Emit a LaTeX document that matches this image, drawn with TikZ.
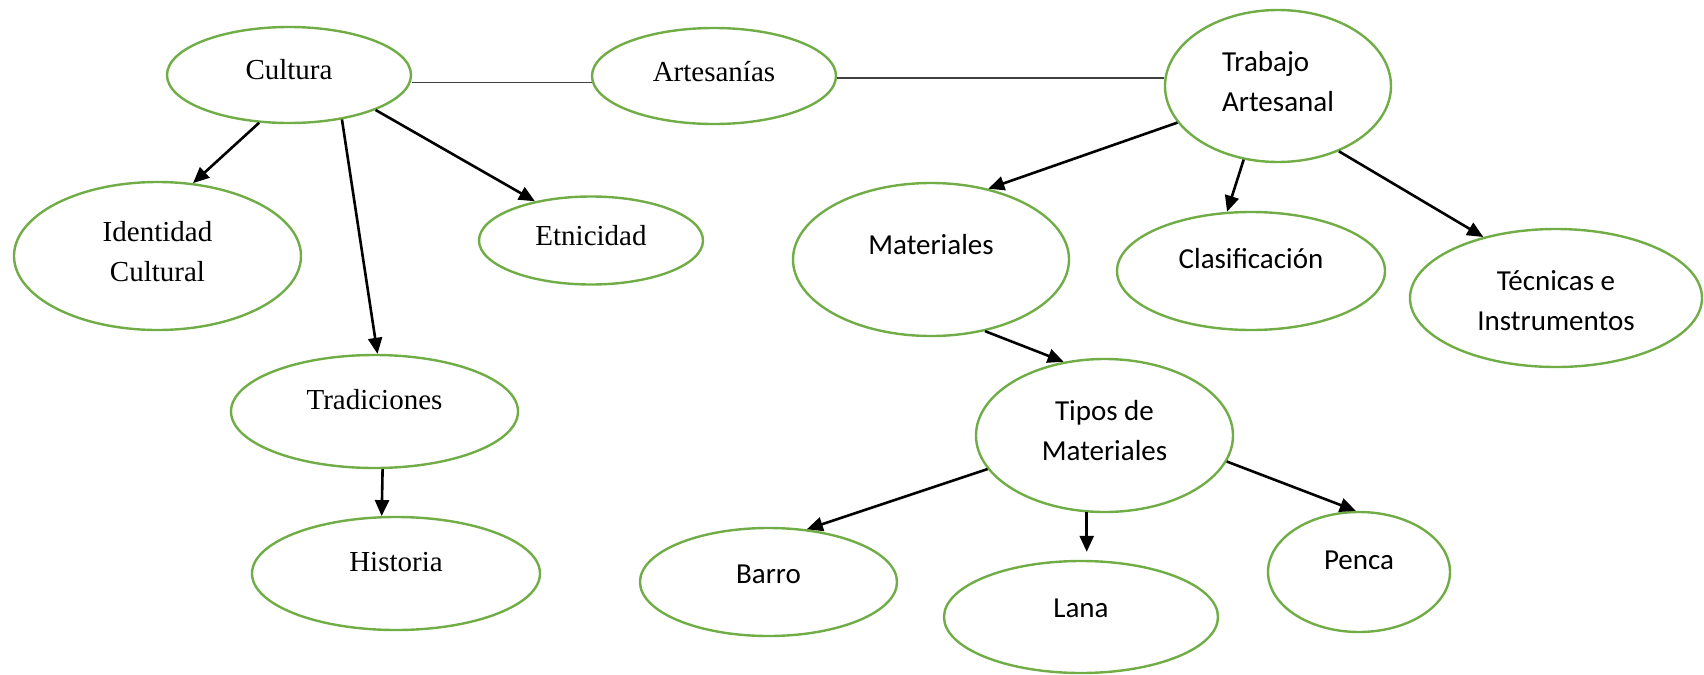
\documentclass[tikz,border=0pt]{standalone}
\usepackage{fontspec}
\setmainfont{Liberation Serif}
\newfontfamily\calibri{Carlito}
\usetikzlibrary{arrows.meta,shapes.geometric}
\definecolor{ovalgreen}{HTML}{70AD47}
\definecolor{linkgray}{HTML}{404040}
\newcommand{\lbl}[3][c]{\raisebox{#2}[\height][\depth]{\begin{tabular}{@{}#1@{}}#3\end{tabular}}}

\begin{document}
\begin{tikzpicture}[x=0.5pt,y=-0.5pt,
    oval/.style 2 args={minimum width=#1pt,minimum height=#2pt},
    sans/.style={font=\calibri\fontsize{14.5}{20}\selectfont}]
\useasboundingbox (0,0) rectangle (1704,675);
\begin{scope}[every node/.style={ellipse,draw=ovalgreen,line width=1.2pt,inner sep=0pt,
              font=\fontsize{14.5}{20}\selectfont}]
    \node[oval={122}{48}] (cul) at (289,75) {\lbl{2pt}{Cultura}};
    \node[oval={122}{48}] (art) at (714,76) {\lbl{1.5pt}{Artesanías}};
    \node[oval={143.5}{74}] (iden) at (157.5,256) {\lbl{1.5pt}{Identidad\\Cultural}};
    \node[oval={112}{44}] (etn) at (591,240.5) {\lbl{1.5pt}{Etnicidad}};
    \node[oval={143.5}{56.5}] (trad) at (374.5,411.5) {\lbl{5pt}{Tradiciones}};
    \node[oval={144}{56.5}] (hist) at (396,573.5) {\lbl{5pt}{Historia}};

    \node[oval={113}{76},sans] (trab) at (1278,86) {\lbl[l]{1.5pt}{Trabajo\\Artesanal}};
    \node[oval={138}{76.5},sans] (mat) at (931,259.5) {\lbl{6.5pt}{Materiales}};
    \node[oval={134}{59},sans] (clas) at (1251,271) {\lbl{5.5pt}{Clasificación}};
    \node[oval={146}{69},sans] (tec) at (1556,298) {\lbl{-2pt}{Técnicas e\\Instrumentos}};
    \node[oval={128.5}{76.5},sans] (tipos) at (1104.5,435.5) {\lbl{1.5pt}{Tipos de\\Materiales}};
    \node[oval={128.5}{54},sans] (barro) at (768.5,582) {\lbl{3.5pt}{Barro}};
    \node[oval={137}{56},sans] (lana) at (1081,617) {\lbl{4pt}{Lana}};
    \node[oval={91}{60},sans] (penca) at (1359,572) {\lbl{5.5pt}{Penca}};
\end{scope}

\begin{scope}[every edge/.style={draw=linkgray,line width=0.9pt}]
    \path (art.183) edge (art.183 -| cul.east);
    \path (art.-1) edge (art.-1 -| trab.west);
\end{scope}

\begin{scope}[every edge/.style={draw=black,line width=1.3pt,-{Triangle[length=8pt,width=7pt]}}]
    \path (cul.-122) edge (iden.64);
    \path (cul.-40) edge (trad.87);
    \path (cul.-22) edge (etn.145);
    \path (trad.-82) edge (hist.104);
    \path (trab.-160) edge (mat.51);
    \path (trab.-115) edge (clas.112);
    \path (trab.-47) edge (tec.140);
    \path (mat.-53) edge (tipos.119);
    \path (tipos.-164) edge (barro.54);
    \path (tipos.-103) edge[shorten >=4pt] (tipos.-103 |- lana.north);
    \path (tipos.-12) edge (penca.93);
\end{scope}
\end{tikzpicture}
\end{document}
